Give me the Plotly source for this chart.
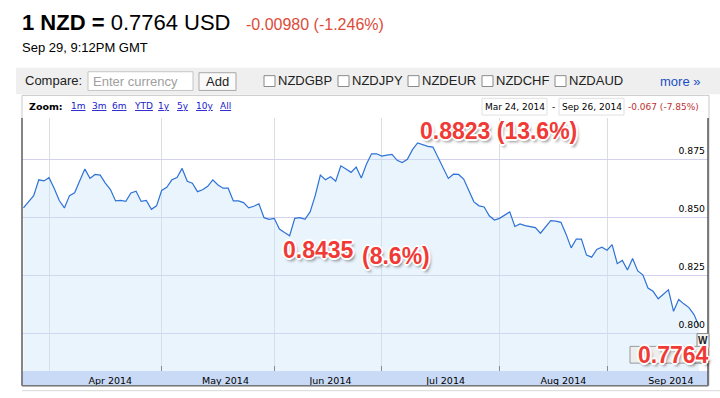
import plotly.graph_objects as go

# ---------------- data ----------------
dates = [
    "2014-03-25", "2014-03-26", "2014-03-27", "2014-03-28", "2014-03-31",
    "2014-04-01", "2014-04-02", "2014-04-03", "2014-04-04", "2014-04-07",
    "2014-04-08", "2014-04-09", "2014-04-10", "2014-04-11", "2014-04-14",
    "2014-04-15", "2014-04-16", "2014-04-17", "2014-04-18", "2014-04-21",
    "2014-04-22", "2014-04-23", "2014-04-24", "2014-04-25", "2014-04-28",
    "2014-04-29", "2014-04-30", "2014-05-01", "2014-05-02", "2014-05-05",
    "2014-05-06", "2014-05-07", "2014-05-08", "2014-05-09", "2014-05-12",
    "2014-05-13", "2014-05-14", "2014-05-15", "2014-05-16", "2014-05-19",
    "2014-05-20", "2014-05-21", "2014-05-22", "2014-05-23", "2014-05-26",
    "2014-05-27", "2014-05-28", "2014-05-29", "2014-05-30", "2014-06-02",
    "2014-06-03", "2014-06-04", "2014-06-05", "2014-06-06", "2014-06-09",
    "2014-06-10", "2014-06-11", "2014-06-12", "2014-06-13", "2014-06-16",
    "2014-06-17", "2014-06-18", "2014-06-19", "2014-06-20", "2014-06-23",
    "2014-06-24", "2014-06-25", "2014-06-26", "2014-06-27", "2014-06-30",
    "2014-07-01", "2014-07-02", "2014-07-03", "2014-07-04", "2014-07-07",
    "2014-07-08", "2014-07-09", "2014-07-10", "2014-07-11", "2014-07-14",
    "2014-07-15", "2014-07-18", "2014-07-21", "2014-07-22", "2014-07-23",
    "2014-07-24", "2014-07-25", "2014-07-28", "2014-07-29", "2014-07-30",
    "2014-07-31", "2014-08-01", "2014-08-04", "2014-08-05", "2014-08-06",
    "2014-08-07", "2014-08-08", "2014-08-11", "2014-08-12", "2014-08-13",
    "2014-08-14", "2014-08-15", "2014-08-18", "2014-08-19", "2014-08-20",
    "2014-08-21", "2014-08-22", "2014-08-25", "2014-08-26", "2014-08-27",
    "2014-08-28", "2014-08-29", "2014-09-01", "2014-09-02", "2014-09-03",
    "2014-09-04", "2014-09-05", "2014-09-08", "2014-09-09", "2014-09-10",
    "2014-09-11", "2014-09-12", "2014-09-15", "2014-09-16", "2014-09-17",
    "2014-09-18", "2014-09-19", "2014-09-22", "2014-09-23", "2014-09-24",
    "2014-09-25",
]
nzd_usd = [
    0.8541, 0.8567, 0.8594, 0.8662, 0.8657,
    0.8671, 0.8626, 0.8573, 0.8541, 0.8594,
    0.8606, 0.8658, 0.8708, 0.8668, 0.8685,
    0.8682, 0.8648, 0.8620, 0.8571, 0.8573,
    0.8569, 0.8605, 0.8613, 0.8569, 0.8573,
    0.8535, 0.8550, 0.8616, 0.8630, 0.8662,
    0.8672, 0.8711, 0.8656, 0.8647, 0.8611,
    0.8619, 0.8634, 0.8662, 0.8640, 0.8626,
    0.8626, 0.8571, 0.8571, 0.8564, 0.8541,
    0.8548, 0.8559, 0.8499, 0.8492, 0.8496,
    0.8450, 0.8435, 0.8421, 0.8496, 0.8499,
    0.8492, 0.8524, 0.8594, 0.8682, 0.8662,
    0.8675, 0.8656, 0.8722, 0.8708, 0.8694,
    0.8717, 0.8670, 0.8729, 0.8774, 0.8774,
    0.8764, 0.8768, 0.8771, 0.8746, 0.8736,
    0.8750, 0.8792, 0.8821, 0.8814, 0.8806,
    0.8803, 0.8668, 0.8686, 0.8685, 0.8665,
    0.8616, 0.8567, 0.8550, 0.8545, 0.8507,
    0.8489, 0.8496, 0.8510, 0.8524, 0.8461,
    0.8472, 0.8465, 0.8461, 0.8456, 0.8432,
    0.8458, 0.8486, 0.8484, 0.8479, 0.8428,
    0.8369, 0.8407, 0.8407, 0.8338, 0.8329,
    0.8362, 0.8372, 0.8359, 0.8383, 0.8301,
    0.8315, 0.8274, 0.8323, 0.8270, 0.8253,
    0.8196, 0.8182, 0.8150, 0.8171, 0.8188,
    0.8096, 0.8147, 0.8128, 0.8112, 0.8082,
    0.8030,
]
y_tick_values = [0.800, 0.825, 0.850, 0.875]
y_tick_labels = ["0.800", "0.825", "0.850", "0.875"]
x_range = ["2014-03-24 17:15", "2014-09-26 17:30"]
y_range = [0.7839, 0.8928]

compare_pairs = ["NZDGBP", "NZDJPY", "NZDEUR", "NZDCHF", "NZDAUD"]
zoom_links = ["1m", "3m", "6m", "YTD", "1y", "5y", "10y", "All"]

# ---------------- layout helpers (pixel -> paper) ----------------
W, H = 720, 398
PL, PR, PT, PB = 22, 708, 118, 375


def fx(x):
    return (x - PL) / (PR - PL)


def fy(y):
    return (PB - y) / (PB - PT)


shapes = []
annos = []


def rect(x0, y0, x1, y1, fill=None, line=None, lw=1, layer="above"):
    shapes.append(dict(
        type="rect", xref="paper", yref="paper",
        x0=fx(x0), x1=fx(x1), y0=fy(y1), y1=fy(y0),
        fillcolor=fill or "rgba(0,0,0,0)",
        line=dict(color=line or "rgba(0,0,0,0)", width=lw if line else 0),
        layer=layer,
    ))


def hline(x0, x1, y, color, lw=1, layer="above"):
    shapes.append(dict(type="line", xref="paper", yref="paper",
                       x0=fx(x0), x1=fx(x1), y0=fy(y), y1=fy(y),
                       line=dict(color=color, width=lw), layer=layer))


def vline(x, y0, y1, color, lw=1, layer="above"):
    shapes.append(dict(type="line", xref="paper", yref="paper",
                       x0=fx(x), x1=fx(x), y0=fy(y0), y1=fy(y1),
                       line=dict(color=color, width=lw), layer=layer))


ARIAL = "Liberation Sans, Arial, sans-serif"
VERD = "DejaVu Sans, Verdana, sans-serif"


def text(x, y, s, size, color="#000", family=ARIAL, xanchor="left", shadow=None):
    f = dict(size=size, color=color, family=family)
    if shadow:
        f["shadow"] = shadow
    annos.append(dict(
        xref="paper", yref="paper", x=fx(x), y=fy(y), text=s,
        showarrow=False, xanchor=xanchor, yanchor="middle",
        font=f, borderpad=0,
    ))


# ---------------- header ----------------
text(21, 21, "<b>1 NZD =</b> 0.7764 USD", 22, "#000")
text(245, 23, "-0.00980 (-1.246%)", 16, "#dd4b39")
text(21, 46, "Sep 29, 9:12PM GMT", 13, "#000")

# compare bar
rect(16, 67, 720, 94, fill="#efefef", layer="below")
text(24, 80, "Compare:", 13, "#222")
rect(88, 71, 193, 90, fill="#ffffff", line="#c4c4c4")
text(92, 80.5, "Enter currency", 13, "#a0a0a0")
rect(199, 72, 236, 90, fill="#fafafa", line="#a8a8a8")
text(217.5, 81, "Add", 13, "#222", xanchor="center")
cb_x = [264, 338, 408, 482, 555]
for cx, name in zip(cb_x, compare_pairs):
    rect(cx, 75, cx + 11, 86, fill="#ffffff", line="#8a8a8a")
    text(cx + 13, 80, name, 13, "#222")
text(659, 81, "more »", 13, "#1a4fc4")

# chart frame and zoom row
rect(22, 95, 709, 390, fill="#ffffff", line="#c8c8c8", layer="below")
text(28, 106, "<b>Zoom:</b>", 9.5, "#000", family=VERD)
link_x = [70, 91, 111, 133, 157, 176, 195, 219]
for lx, lab in zip(link_x, zoom_links):
    text(lx, 106, "<u>" + lab + "</u>", 9, "#1a1acc", family=VERD)
rect(482, 98, 547, 115, fill="#ffffff", line="#e0e0e0")
text(514.5, 106.5, "Mar 24, 2014", 9, "#000", family=VERD, xanchor="center")
text(553, 106.5, "-", 9, "#000", family=VERD, xanchor="center")
rect(559, 98, 624, 115, fill="#ffffff", line="#e0e0e0")
text(591.5, 106.5, "Sep 26, 2014", 9, "#000", family=VERD, xanchor="center")
text(627, 106.5, "-0.067 (-7.85%)", 9, "#c03030", family=VERD)

# x-axis band and borders
rect(22, 375, 708, 390, fill="#c9daf6", layer="below")
vline(22, 118, 390, "#666666", 1.5)
vline(708, 118, 390, "#555555", 1.5)
hline(22, 708, 390, "#777777", 1.5)
hline(22, 720, 395, "#d8d8d8", 1)

# flag boxes near the last value
rect(697, 337, 709, 351, fill="#f6f6f6", line="#8a8a8a")
text(703, 344, "<b>W</b>", 10, "#222", xanchor="center")
rect(630, 350, 707, 367, fill="#eeeeee", line="#999999")

# big red overlay labels
RED = "#f03a36"
SH = ("1px 1px 0 #fff, -1px -1px 0 #fff, 1px -1px 0 #fff, -1px 1px 0 #fff, "
      "2px 0 0 #fff, -2px 0 0 #fff, 0 2px 0 #fff, 0 -2px 0 #fff, "
      "2px 3px 3px rgba(0,0,0,0.45)")
text(498, 131, "<b>0.8823 (13.6%)</b>", 23, RED, xanchor="center", shadow=SH)
text(282, 252, "<b>0.8435</b>", 23, RED, shadow=SH)
text(361, 258, "<b>(8.6%)</b>", 23, RED, shadow=SH)
text(637, 359, "<b>0.7764</b>", 23, RED, shadow=SH)

# ---------------- figure ----------------
fig = go.Figure()
fig.add_trace(go.Scatter(
    x=dates, y=nzd_usd, mode="lines",
    line=dict(color="#2e72d6", width=1.2),
    fill="tozeroy", fillcolor="rgba(200,226,250,0.38)",
    hoverinfo="skip",
))

fig.update_layout(
    width=W, height=H,
    margin=dict(l=PL, r=W - PR, t=PT, b=H - PB),
    paper_bgcolor="#ffffff", plot_bgcolor="rgba(0,0,0,0)",
    showlegend=False,
    shapes=shapes, annotations=annos,
    xaxis=dict(
        type="date", range=x_range,
        rangebreaks=[dict(bounds=["sat", "mon"])],
        tick0="2014-04-01", dtick="M1", ticklabelmode="period",
        tickformat="%b %Y",
        ticklabelshift=5, ticklabelstandoff=2,
        showgrid=True, gridcolor="#d9dfdf", gridwidth=1,
        ticks="inside", ticklen=5, tickcolor="#8a8a8a",
        showline=False, zeroline=False,
        tickfont=dict(family=VERD, size=9.5, color="#000"),
        fixedrange=True,
    ),
    yaxis=dict(
        range=y_range, side="right",
        tickvals=y_tick_values, ticktext=y_tick_labels,
        ticklabelposition="inside top", ticklabelshift=-2,
        showgrid=True, gridcolor="#d2d2ef", gridwidth=1,
        ticks="", showline=False, zeroline=False,
        tickfont=dict(family=VERD, size=9.3, color="#000"),
        fixedrange=True,
    ),
)

fig.write_html(
    "out.html",
    config={"displayModeBar": False},
    post_script="document.body.style.margin='0';document.body.style.overflow='hidden';",
)
